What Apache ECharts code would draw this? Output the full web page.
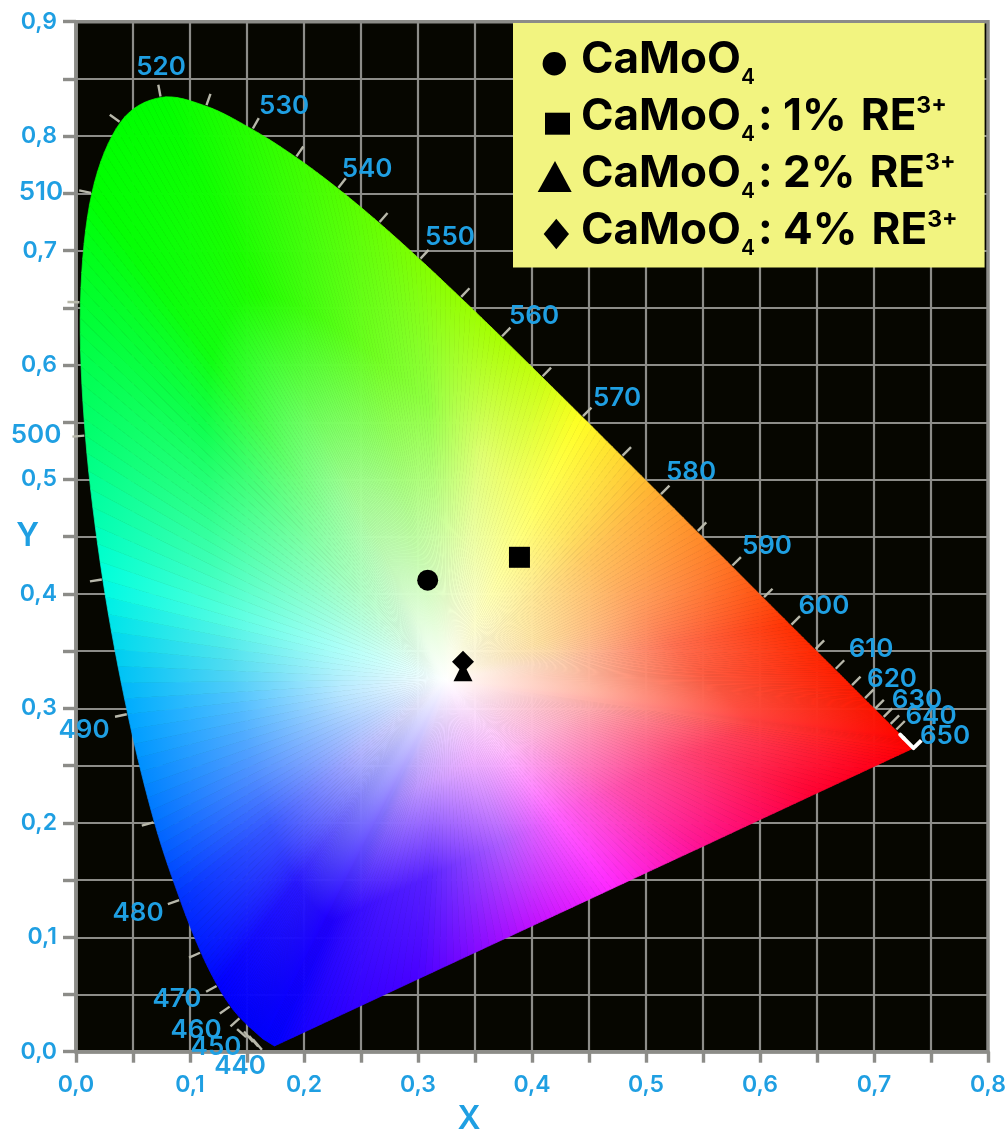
<!DOCTYPE html>
<html>
<head>
<meta charset="utf-8">
<script src="https://cdn.jsdelivr.net/npm/echarts@6/dist/echarts.min.js"></script>
<style>html,body{margin:0;padding:0;background:#fff}#c{width:1008px;height:1135px}</style>
</head>
<body>
<div id="c"></div>
<script>
// spectral locus 440..650 nm in 5 nm steps, then 700 nm, then points along the purple line
var boundaryWave = [440,445,450,455,460,465,470,475,480,485,490,495,500,505,510,515,520,525,530,535,540,545,550,555,560,565,570,575,580,585,590,595,600,605,610,615,620,625,630,635,640,645,650,700,0,0,0,0,0,0,0,0,0,0,0,0,0];
var boundaryX = [.1644,.1611,.1566,.1510,.1440,.1355,.1241,.1096,.0913,.0687,.0454,.0235,.0082,.0039,.0139,.0389,.0743,.1142,.1547,.1929,.2296,.2658,.3016,.3373,.3731,.4087,.4441,.4788,.5125,.5448,.5752,.6029,.6270,.6482,.6658,.6801,.6915,.7006,.7079,.7140,.7190,.7230,.7260,.7347,.70,.65,.60,.55,.51,.47,.435,.40,.35,.30,.24,.20,.1741];
var boundaryY = [.0109,.0138,.0177,.0227,.0297,.0399,.0578,.0868,.1327,.2007,.2950,.4127,.5384,.6548,.7502,.8120,.8338,.8262,.8059,.7816,.7543,.7243,.6923,.6589,.6245,.5896,.5547,.5202,.4866,.4544,.4242,.3965,.3725,.3514,.3340,.3197,.3083,.2993,.2920,.2859,.2809,.2770,.2740,.2653,.2492,.2260,.2028,.1795,.1610,.1424,.1261,.1099,.0867,.0635,.0356,.0170,.0050];
var whitePoint = [.325,.325];
// colours read along rays from the white point to the boundary (1/3, 2/3, edge)
var keyIndex  = [0,6,8,9,10,11,12,13,14,16,20,22,24,25,26,27,28,30,32,34,43,45,47,49,51,53,56];
var keyInner  = ['#9080ff','#9898ff','#b0b4ff','#a8c8ff','#b8e8ff','#a8fff8','#98ffd0','#90ffb0','#90ffa0','#a0ff90','#b8ff98','#d0ffa8','#eeffb8','#f8ffb8','#ffffb0','#fff8b0','#ffeea8','#ffe0a0','#ffd0b0','#ffc0a8','#ffa8a0','#ffb0c0','#ffb8e0','#ffc0ff','#f0b0ff','#d0a0ff','#9080ff'];
var keyMiddle = ['#2000ff','#2818ff','#3858ff','#5090ff','#50c0ff','#50ffe0','#30ff90','#10ff50','#10ff10','#20ff00','#70ff20','#90ff40','#e0ff70','#f0ff68','#ffff60','#ffe860','#ffc860','#ffa060','#ff7050','#ff5c40','#ff4040','#ff4070','#ff50b0','#ff60ff','#b060ff','#5820ff','#2000ff'];
var keyEdge   = ['#0000ff','#0000ff','#0030ff','#0070ff','#00a8ff','#00ffe0','#00ff70','#00ff30','#00ff00','#00ff00','#50ff00','#80ff00','#a8ff00','#c8ff10','#ffff20','#ffd830','#ffaa30','#ff7020','#ff3000','#ff2000','#ff0000','#ff0030','#ff1090','#ff28ff','#c010ff','#4800ff','#0000ff'];

var xTicks = [0,.8];
var yTicks = [0,.9];
var tickStep = .05;

var samples = [
  {name:'CaMoO4', x:.3085, y:.412, symbol:'circle', size:21},
  {name:'CaMoO4:1%', x:.389, y:.432, symbol:'rect', size:21},
  {name:'CaMoO4:2%', x:.3395, y:.332, symbol:'triangle', size:19},
  {name:'CaMoO4:4%', x:.3395, y:.3407, symbol:'diamond', size:22}
];
var legendMarkup = {
  'CaMoO4':'{m|CaMoO}{s|4}',
  'CaMoO4:1%':'{m|CaMoO}{s|4}{m|: 1%}{r|RE}{u|3+}',
  'CaMoO4:2%':'{m|CaMoO}{s|4}{m|: 2%}{r|RE}{u|3+}',
  'CaMoO4:4%':'{m|CaMoO}{s|4}{m|: 4%}{r|RE}{u|3+}'
};
var legendIcons = {
  'CaMoO4':'path://M0 0M41 44M7.6 25.7A11.7 11.7 0 1 1 31 25.7A11.7 11.7 0 1 1 7.6 25.7Z',
  'CaMoO4:1%':'path://M0 0M41 44M10 17.7H35V39.7H10Z',
  'CaMoO4:2%':'path://M0 0M41 44M20 9L36.7 40H2.7Z',
  'CaMoO4:4%':'path://M0 0M41 44M21.3 9.7L34 25L21.3 40.3L8.7 25Z'
};
var waveLabels = [
  [520,.0746,.8606],[530,.1825,.8265],[540,.2553,.7714],[550,.3281,.7120],[560,.4018,.6429],
  [570,.4746,.5712],[580,.5395,.5065],[590,.6061,.4418],[600,.6561,.3893],[610,.6974,.3514],
  [620,.7158,.3252],[630,.7377,.3068],[640,.7500,.2928],[650,.7623,.2753],[490,.0070,.2810],
  [480,.0544,.1211],[470,.0886,.0459],[460,.1053,.0188],[450,.1228,.0039],[440,.1439,-.0127],
  [510,-.0307,.7509],[500,-.0351,.5389]
];

var FONT = 'Inter';
var BLUE = '#1f9fe2';
var GRID = '#8c8c88';
var SUBDIV = 8;
var LOCUS_END = 43;

function rgb(h){return [parseInt(h.slice(1,3),16),parseInt(h.slice(3,5),16),parseInt(h.slice(5,7),16)];}
function mix(list,k,t){
  var a=rgb(list[k]),b=rgb(list[Math.min(k+1,list.length-1)]);
  return 'rgb('+[0,1,2].map(function(i){return Math.round(a[i]+(b[i]-a[i])*t);}).join(',')+')';
}
function rayStops(pos){
  var k=0;
  while(k<keyIndex.length-2 && keyIndex[k+1]<=pos) k++;
  var t=Math.min(1,(pos-keyIndex[k])/(keyIndex[k+1]-keyIndex[k]));
  return [{offset:0,color:'#ffffff'},{offset:.33,color:mix(keyInner,k,t)},{offset:.66,color:mix(keyMiddle,k,t)},{offset:1,color:mix(keyEdge,k,t)}];
}

var boundaryData = boundaryX.map(function(x,i){return [x,boundaryY[i],boundaryWave[i]];});
var n = boundaryX.length;

// curve drawing of the boundary: smooth along the locus, straight on the purple line
function curvePoint(api,i,t){
  var j=(i+1)%n;
  var p1=api.coord([boundaryX[i],boundaryY[i]]),p2=api.coord([boundaryX[j],boundaryY[j]]);
  if(i>=LOCUS_END) return [p1[0]+(p2[0]-p1[0])*t,p1[1]+(p2[1]-p1[1])*t];
  var h=i>0?i-1:i,k=j<LOCUS_END?j+1:j;
  var p0=api.coord([boundaryX[h],boundaryY[h]]),p3=api.coord([boundaryX[k],boundaryY[k]]);
  var t2=t*t,t3=t2*t;
  return [0,1].map(function(c){
    return .5*(2*p1[c]+(p2[c]-p0[c])*t+(2*p0[c]-5*p1[c]+4*p2[c]-p3[c])*t2+(3*p1[c]-p0[c]-3*p2[c]+p3[c])*t3);
  });
}
function renderWedge(params,api){
  var i=params.dataIndex;
  var w=api.coord(whitePoint),kids=[];
  for(var s=0;s<SUBDIV;s++){
    var a=curvePoint(api,i,s/SUBDIV),b=curvePoint(api,i,(s+1)/SUBDIV);
    var g=new echarts.graphic.LinearGradient(w[0],w[1],(a[0]+b[0])/2,(a[1]+b[1])/2,rayStops(i+(s+.5)/SUBDIV),true);
    kids.push({type:'polygon',shape:{points:[w,a,b]},style:{fill:g,stroke:g,lineWidth:.7}});
  }
  return {type:'group',children:kids};
}
function renderTick(params,api){
  var i=params.dataIndex;
  var wave=boundaryWave[i];
  if(!wave||wave===645||wave===650) return null;
  var p=api.coord([boundaryX[i],boundaryY[i]]);
  if(wave<=450){
    return {type:'line',shape:{x1:p[0]-10.5,y1:p[1],x2:p[0]-1.5,y2:p[1]+10.5},style:{stroke:'#b8b8aa',lineWidth:2.4}};
  }
  if(wave===455){
    return {type:'line',shape:{x1:p[0]-11,y1:p[1]+3.5,x2:p[0]-2,y2:p[1]+11.5},style:{stroke:'#b8b8aa',lineWidth:2.4}};
  }
  var prev=api.coord([boundaryX[i-1],boundaryY[i-1]]);
  var next=wave===700?p:api.coord([boundaryX[i+1],boundaryY[i+1]]);
  var dx=next[0]-prev[0],dy=next[1]-prev[1],len=Math.sqrt(dx*dx+dy*dy)||1;
  var nx=dy/len,ny=-dx/len; // outward normal of the locus
  var reach=wave===700?11:13;
  return {type:'line',shape:{x1:p[0]+nx*1,y1:p[1]+ny*1,x2:p[0]+nx*reach,y2:p[1]+ny*reach},
    style:{stroke:wave===700?'#ffffff':'#b8b8aa',lineWidth:wave===700?4:2.4}};
}
// white strip along the last stretch of the locus (645 nm to 700 nm)
function renderEndStrip(params,api){
  var i=params.dataIndex;
  if(boundaryWave[i]!==645&&boundaryWave[i]!==650) return null;
  var a=api.coord([boundaryX[i],boundaryY[i]]),b=api.coord([boundaryX[i+1],boundaryY[i+1]]);
  return {type:'line',shape:{x1:a[0],y1:a[1],x2:b[0],y2:b[1]},style:{stroke:'#ffffff',lineWidth:4,lineCap:'round'}};
}

var series = [
  {type:'custom',name:'locus ticks',renderItem:renderTick,data:boundaryData,clip:false,silent:true,z:3},
  {type:'custom',name:'gamut',renderItem:renderWedge,data:boundaryData,clip:false,silent:true,z:4},
  {type:'custom',name:'locus end',renderItem:renderEndStrip,data:boundaryData,clip:false,silent:true,z:5},
  {type:'scatter',name:'wavelengths',data:waveLabels.map(function(r){return [r[1],r[2],r[0]];}),clip:false,silent:true,z:6,
    symbolSize:1,itemStyle:{color:'transparent',opacity:1},
    label:{show:true,position:'inside',formatter:function(p){return p.value[2];},color:BLUE,fontFamily:FONT,fontSize:26,fontWeight:600}}
];
samples.forEach(function(s){
  series.push({type:'scatter',name:s.name,data:[[s.x,s.y]],symbol:s.symbol,symbolSize:s.size,itemStyle:{color:'#000',opacity:1},z:7});
});

function commaLabel(v){
  var u=Math.round(v*20);
  return u%2===0?(u/20).toFixed(1).replace('.',','):'';
}

var chart = echarts.init(document.getElementById('c'),null,{renderer:'canvas'});
chart.setOption({
  animation:false,
  backgroundColor:'#ffffff',
  tooltip:{show:false},
  grid:{left:76,right:20,top:21.7,bottom:83.3,outerBoundsMode:'none',show:true,backgroundColor:'#060600',borderColor:GRID,borderWidth:3.4,containLabel:false},
  legend:{
    show:true,selectedMode:false,left:513,top:23,orient:'vertical',itemGap:0,itemWidth:41,itemHeight:44,
    backgroundColor:'#f2f480',padding:[15,27,8,22],borderRadius:0,
    data:samples.map(function(s){return {name:s.name,icon:legendIcons[s.name],itemStyle:{color:'#000',opacity:1}};}),
    formatter:function(name){return legendMarkup[name];},
    textStyle:{color:'#000',fontFamily:FONT,rich:{
      m:{fontFamily:FONT,fontSize:44,fontWeight:700,color:'#000',lineHeight:57,verticalAlign:'middle'},
      r:{fontFamily:FONT,fontSize:44,fontWeight:700,color:'#000',lineHeight:57,verticalAlign:'middle',padding:[0,0,0,14]},
      s:{fontFamily:FONT,fontSize:21,fontWeight:600,color:'#000',lineHeight:18,verticalAlign:'bottom',padding:[0,3,0,0]},
      u:{fontFamily:FONT,fontSize:23,fontWeight:700,color:'#000',lineHeight:22,verticalAlign:'top',padding:[6,0,0,0]}
    }}
  },
  xAxis:{type:'value',min:xTicks[0],max:xTicks[1],interval:tickStep,
    name:'X',nameLocation:'middle',nameGap:52,nameTextStyle:{color:BLUE,fontFamily:FONT,fontSize:32,fontWeight:600,padding:[0,126,0,0]},
    axisLine:{show:true,onZero:false,lineStyle:{color:GRID,width:3.6}},
    axisTick:{show:true,length:11,lineStyle:{color:GRID,width:3.4}},
    splitLine:{show:true,lineStyle:{color:GRID,width:2.2}},
    axisLabel:{show:true,margin:22,color:BLUE,fontFamily:FONT,fontSize:23,fontWeight:600,formatter:commaLabel,showMinLabel:true,showMaxLabel:true,hideOverlap:false}
  },
  yAxis:{type:'value',min:yTicks[0],max:yTicks[1],interval:tickStep,
    name:'Y',nameLocation:'middle',nameGap:37,nameRotate:0,nameMoveOverlap:false,nameTextStyle:{color:BLUE,fontFamily:FONT,fontSize:32,fontWeight:600},
    axisLine:{show:true,onZero:false,lineStyle:{color:GRID,width:3.6}},
    axisTick:{show:true,length:13,lineStyle:{color:GRID,width:3.4}},
    splitLine:{show:true,lineStyle:{color:GRID,width:2.2}},
    axisLabel:{show:true,margin:19,color:BLUE,fontFamily:FONT,fontSize:23,fontWeight:600,formatter:commaLabel,showMinLabel:true,showMaxLabel:true,hideOverlap:false}
  },
  series:series
});
</script>
</body>
</html>
